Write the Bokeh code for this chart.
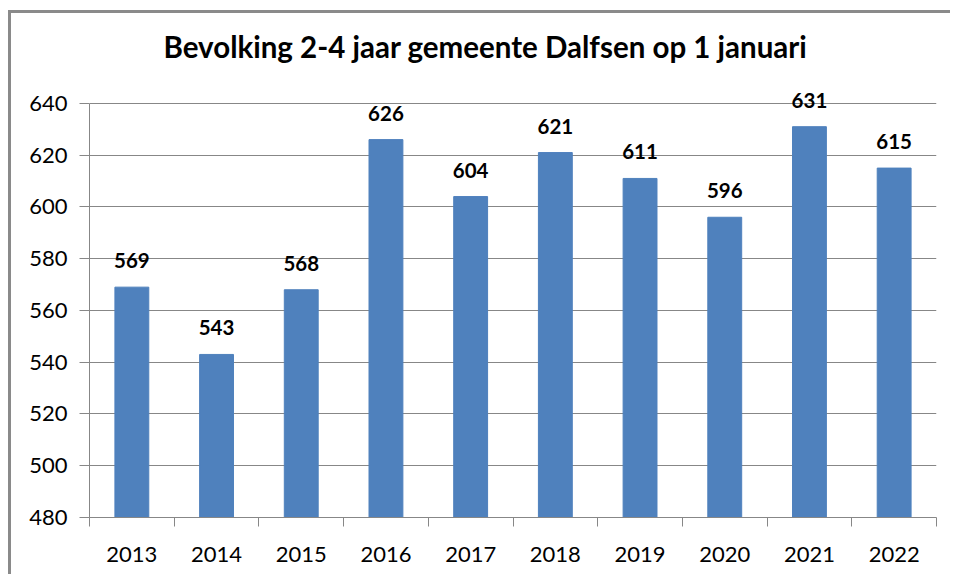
from bokeh.plotting import figure
from bokeh.models import ColumnDataSource, FixedTicker, LabelSet, Title
from bokeh.core.properties import value
from bokeh.embed import file_html
from bokeh.resources import INLINE

years = ["2013", "2014", "2015", "2016", "2017", "2018", "2019", "2020", "2021", "2022"]
values = [569, 543, 568, 626, 604, 621, 611, 596, 631, 615]
y_ticks = [480, 500, 520, 540, 560, 580, 600, 620, 640]
title_text = "Bevolking 2-4 jaar gemeente Dalfsen op 1 januari"

xs = list(range(len(years)))
src = ColumnDataSource(dict(x=xs, top=values, label=[str(v) for v in values]))

p = figure(width=942, height=564, output_backend="svg", toolbar_location=None,
           x_range=(-0.5, len(years) - 0.5), y_range=(y_ticks[0], 650),
           min_border_left=78, min_border_right=17, min_border_top=64, min_border_bottom=60)
p.title = None
p.add_layout(Title(text=title_text, align="left", offset=74, standoff=27,
                   text_font="Lato", text_font_size="29.5px", text_font_style="bold",
                   text_color="#000000"), "above")

p.vbar(x="x", top="top", bottom=y_ticks[0], width=0.4, source=src,
       fill_color="#4F81BD", line_color="#4F81BD")

p.add_layout(LabelSet(x="x", y="top", text="label", source=src, y_offset=19,
                      text_align="center", text_baseline="alphabetic",
                      text_font=value("Lato"), text_font_size=value("20.5px"),
                      text_font_style="bold", text_color="#000000"))

p.outline_line_color = None
p.background_fill_color = "white"
p.border_fill_color = "white"

p.xgrid.grid_line_color = None
p.ygrid.grid_line_color = "#878787"
p.ygrid.grid_line_width = 1
p.ygrid.ticker = FixedTicker(ticks=y_ticks)

p.yaxis.ticker = FixedTicker(ticks=y_ticks)
p.yaxis.bounds = (y_ticks[0], y_ticks[-1])
p.yaxis.axis_line_color = "#878787"
p.yaxis.major_tick_line_color = "#878787"
p.yaxis.major_tick_out = 10
p.yaxis.major_tick_in = 0
p.yaxis.minor_tick_line_color = None
p.yaxis.major_label_standoff = 12
p.yaxis.major_label_text_font = "Lato"
p.yaxis.major_label_text_font_size = "22px"
p.yaxis.major_label_text_color = "#000000"

bounds = [i - 0.5 for i in range(len(years) + 1)]
p.xaxis.ticker = FixedTicker(ticks=xs, minor_ticks=bounds)
p.xaxis.major_label_overrides = {i: y for i, y in enumerate(years)}
p.xaxis.axis_line_color = "#878787"
p.xaxis.major_tick_line_color = None
p.xaxis.minor_tick_line_color = "#878787"
p.xaxis.minor_tick_out = 9
p.xaxis.minor_tick_in = 0
p.xaxis.major_label_standoff = 20
p.xaxis.major_label_text_font = "Lato"
p.xaxis.major_label_text_font_size = "22px"
p.xaxis.major_label_text_color = "#000000"

p.styles = {"border-left": "3px solid #8a8a8a", "border-top": "3px solid #8a8a8a",
            "margin-left": "8px", "margin-top": "10px"}

open("out.html", "w").write(file_html(p, INLINE))
